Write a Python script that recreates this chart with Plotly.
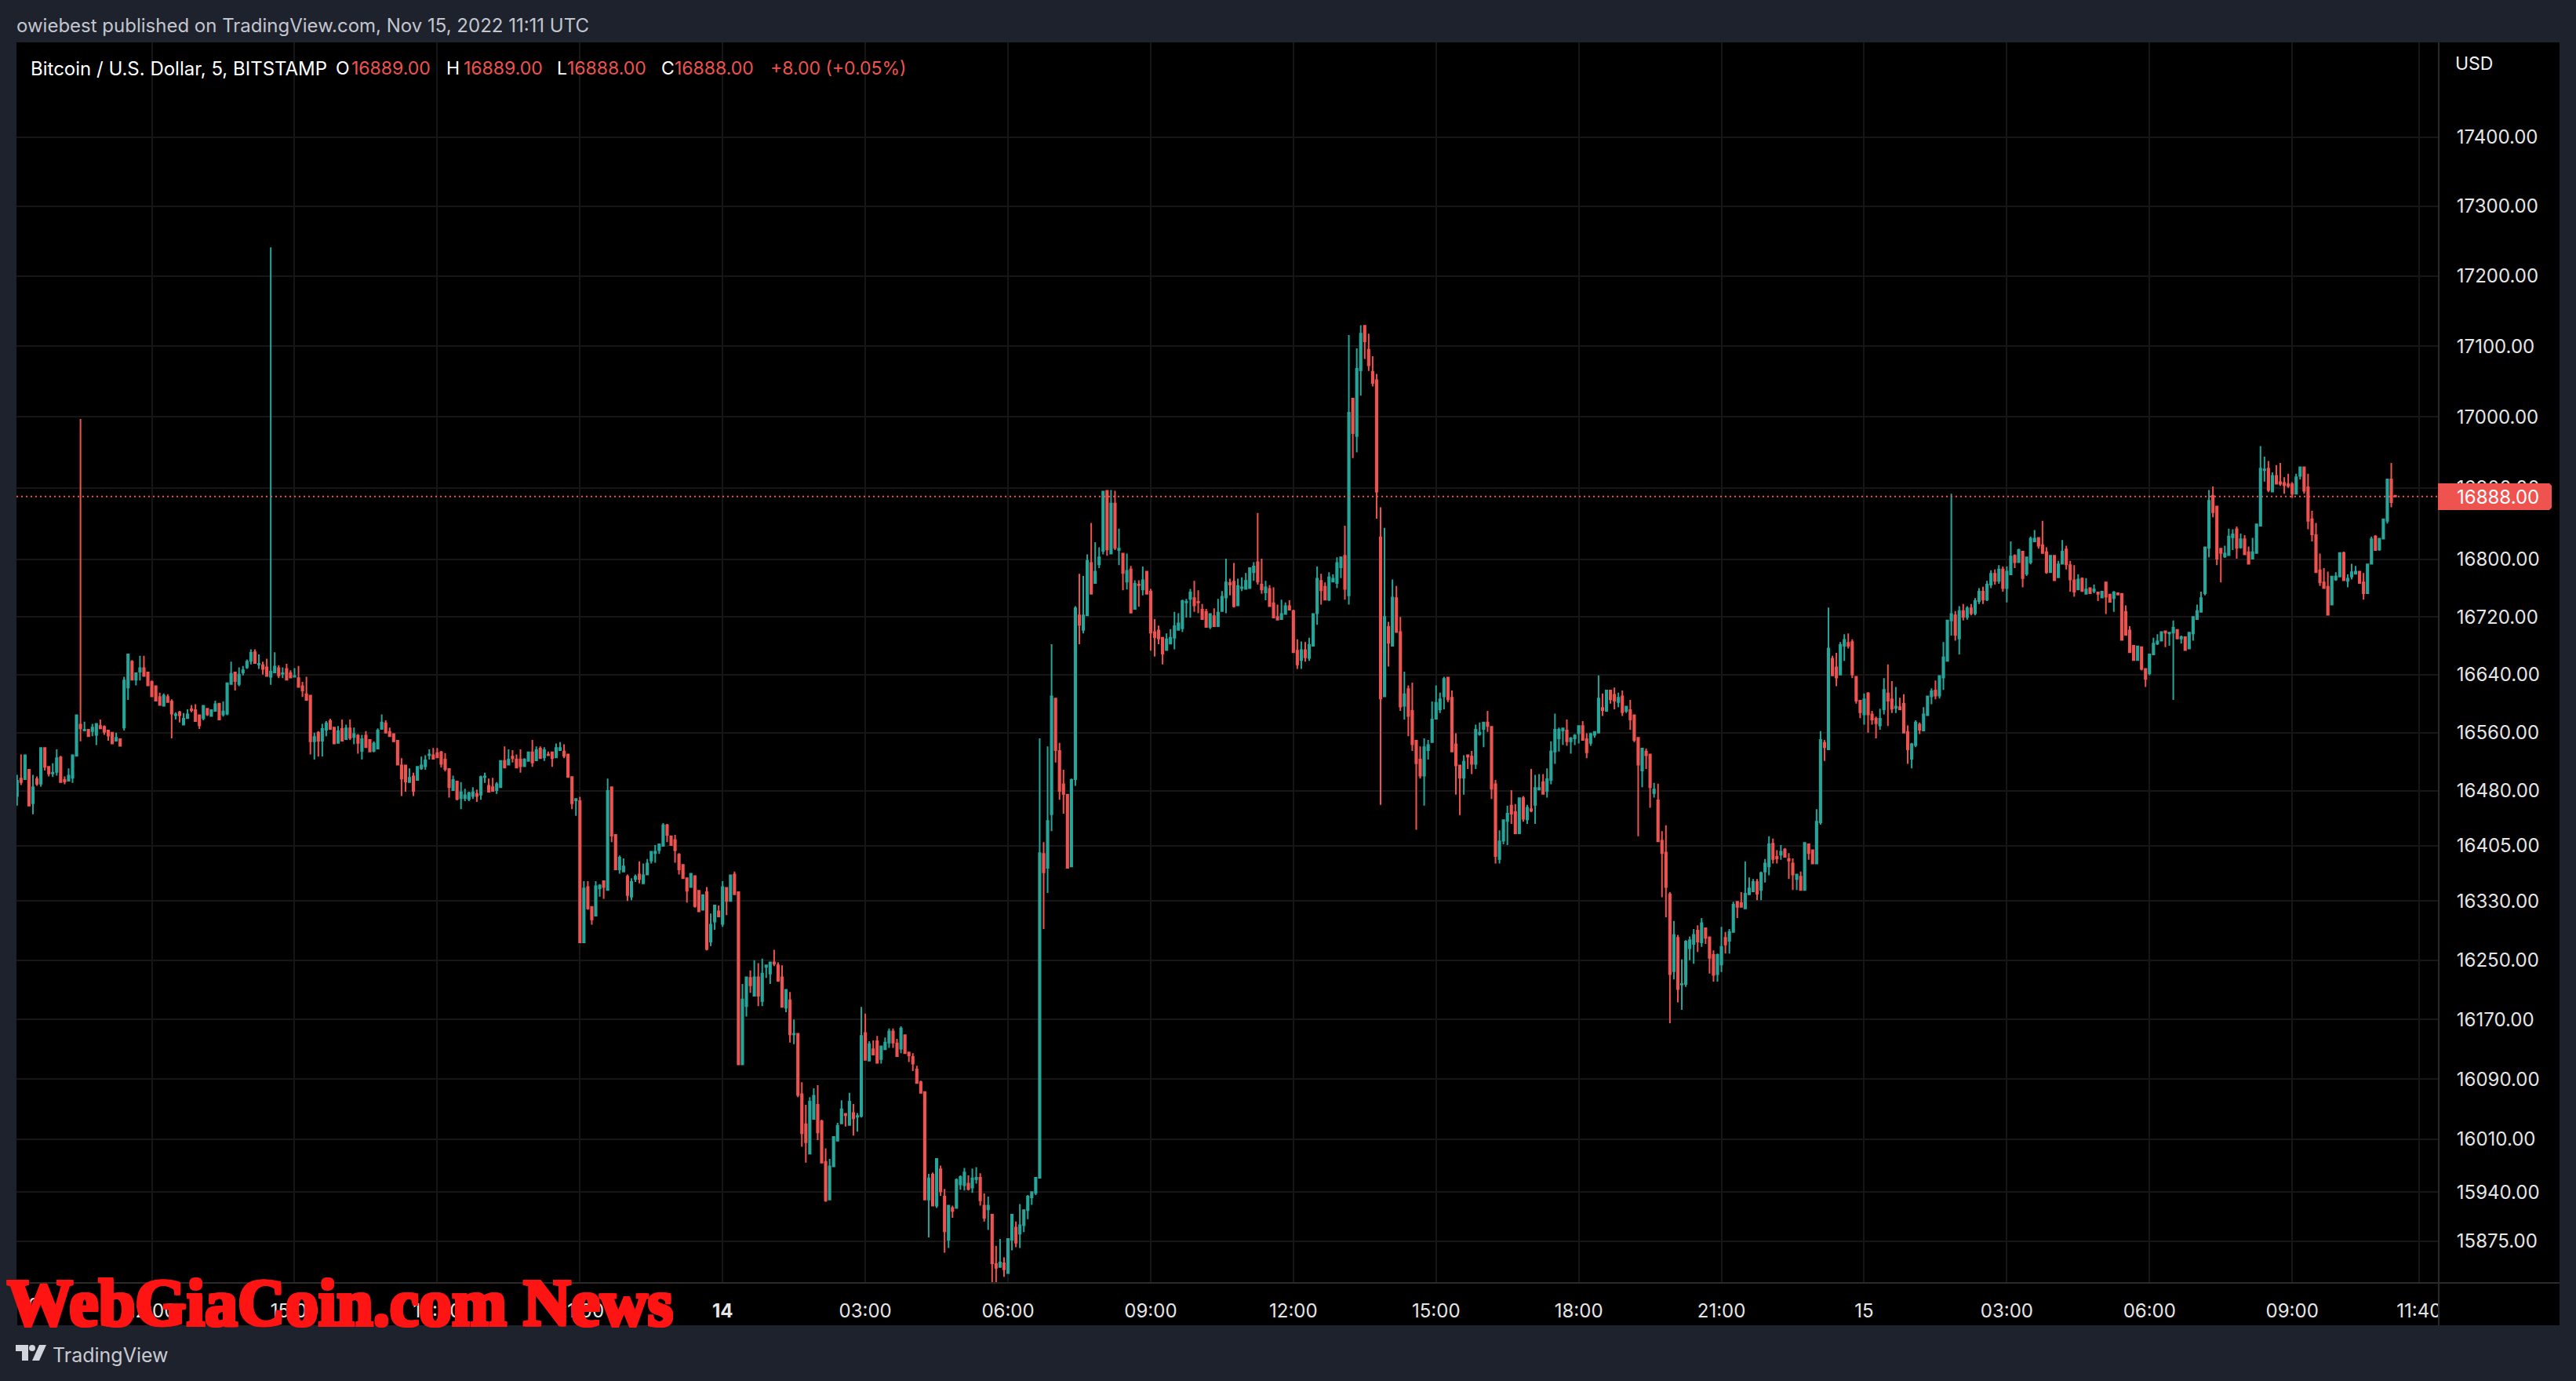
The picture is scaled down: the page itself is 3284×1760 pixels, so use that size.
import pandas as pd
import plotly.graph_objects as go

open_ = [
16473,16497,16496,16509,16463,16496,16490,16539,16513,16504,
16506,16526,16495,16494,16498,16528,16571,16563,16564,16562,
16557,16569,16568,16563,16560,16549,16551,16567,16622,16658,
16633,16644,16649,16643,16630,16624,16609,16597,16609,16603,
16584,16588,16571,16580,16592,16591,16584,16580,16593,16583,
16590,16600,16585,16586,16627,16643,16627,16643,16650,16659,
16671,16654,16653,16650,16637,16643,16649,16641,16648,16642,
16637,16635,16624,16613,16611,16548,16560,16549,16564,16576,
16567,16546,16565,16551,16566,16554,16556,16535,16556,16550,
16535,16538,16565,16573,16561,16558,16549,16515,16515,16492,
16500,16495,16511,16514,16529,16529,16532,16533,16523,16510,
16481,16493,16470,16470,16469,16473,16476,16475,16499,16487,
16485,16481,16485,16521,16516,16527,16523,16523,16514,16521,
16533,16522,16538,16526,16530,16533,16526,16536,16534,16530,
16499,16467,16466,16274,16349,16322,16310,16347,16357,16345,
16485,16420,16373,16370,16363,16336,16360,16366,16354,16366,
16385,16395,16399,16405,16433,16418,16413,16393,16379,16361,
16349,16364,16344,16318,16342,16275,16302,16316,16299,16348,
16330,16366,16342,16110,16188,16226,16202,16227,16195,16241,
16232,16247,16243,16227,16186,16196,16150,16151,16070,16030,
15991,16037,16056,16034,15980,15930,15974,16008,16031,16044,
16029,16045,16040,16041,16152,16115,16130,16141,16117,16130,
16139,16154,16138,16131,16149,16126,16120,16103,16086,16073,
15930,15963,15922,15970,15934,15877,15919,15919,15950,15949,
15951,15946,15957,15959,15922,15917,15910,15845,15841,15846,
15833,15877,15893,15885,15896,15916,15933,15939,15959,16394,
16375,16448,16607,16535,16489,16475,16377,16496,16722,16702,
16722,16795,16767,16793,16812,16896,16808,16878,16813,16808,
16769,16786,16731,16765,16758,16783,16755,16699,16701,16691,
16674,16683,16691,16702,16704,16740,16745,16746,16741,16730,
16727,16706,16721,16707,16728,16747,16767,16769,16736,16760,
16759,16760,16782,16796,16765,16754,16759,16739,16720,16717,
16724,16735,16728,16673,16660,16674,16663,16680,16725,16770,
16762,16744,16769,16767,16789,16805,16750,17026,16973,17066,
17129,17095,17064,17052,16831,16610,16706,16680,16746,16699,
16597,16620,16590,16549,16523,16501,16536,16547,16579,16592,
16610,16636,16608,16544,16515,16498,16529,16527,16517,16558,
16565,16574,16568,16489,16387,16412,16439,16460,16451,16422,
16470,16441,16455,16461,16482,16492,16480,16495,16534,16552,
16563,16563,16548,16552,16559,16569,16551,16546,16557,16560,
16594,16590,16618,16612,16602,16610,16590,16591,16584,16553,
16508,16534,16530,16477,16467,16412,16396,16339,16235,16280,
16217,16218,16266,16272,16290,16274,16293,16281,16257,16231,
16244,16280,16276,16288,16329,16327,16320,16339,16343,16356,
16345,16370,16377,16408,16390,16393,16400,16387,16381,16360,
16363,16345,16407,16399,16381,16437,16546,16537,16662,16650,
16640,16680,16684,16685,16637,16604,16585,16614,16585,16579,
16570,16592,16614,16606,16594,16595,16600,16561,16524,16543,
16571,16563,16584,16610,16618,16611,16636,16659,16715,16722,
16690,16728,16720,16732,16725,16742,16755,16744,16765,16780,
16770,16786,16760,16779,16805,16796,16811,16780,16796,16825,
16830,16820,16810,16782,16805,16775,16794,16814,16792,16771,
16758,16773,16752,16760,16756,16754,16747,16768,16751,16746,
16753,16752,16727,16701,16680,16660,16678,16648,16642,16668,
16683,16687,16700,16697,16698,16702,16690,16692,16676,16697,
16717,16727,16753,16816,16889,16874,16815,16804,16806,16831,
16842,16817,16828,16810,16801,16809,16847,16925,16927,16895,
16917,16908,16907,16905,16905,16892,16917,16929,16901,16856,
16834,16785,16768,16762,16737,16772,16776,16809,16770,16776,
16780,16783,16768,16753,16794,16832,16814,16829,16854,16912,
16889]

high = [
16502,16530,16529,16509,16502,16500,16539,16539,16514,16518,
16537,16528,16500,16511,16529,16585,16997,16575,16564,16572,
16572,16578,16570,16564,16560,16560,16551,16637,16668,16660,
16642,16666,16666,16644,16632,16624,16615,16614,16613,16606,
16588,16590,16587,16592,16598,16599,16584,16598,16593,16591,
16604,16600,16603,16628,16658,16643,16650,16652,16661,16675,
16675,16668,16658,16662,17241,16671,16653,16650,16655,16646,
16649,16652,16630,16637,16611,16560,16562,16572,16576,16579,
16567,16569,16578,16571,16578,16567,16558,16557,16562,16551,
16548,16566,16585,16577,16567,16558,16550,16525,16515,16511,
16505,16513,16527,16529,16537,16539,16539,16535,16532,16511,
16501,16493,16492,16483,16479,16485,16482,16501,16505,16497,
16498,16492,16521,16541,16537,16536,16530,16537,16525,16533,
16550,16541,16541,16540,16534,16533,16545,16547,16544,16530,
16499,16470,16472,16357,16357,16322,16357,16353,16358,16497,
16485,16420,16392,16388,16366,16361,16366,16384,16381,16387,
16397,16406,16408,16436,16435,16418,16420,16395,16379,16361,
16367,16364,16344,16338,16349,16313,16324,16324,16357,16348,
16366,16370,16342,16218,16228,16236,16250,16246,16252,16243,
16247,16264,16247,16243,16210,16207,16170,16151,16086,16056,
16066,16078,16082,16036,15998,15984,16013,16032,16062,16044,
16072,16057,16045,16187,16178,16141,16142,16148,16134,16146,
16158,16158,16144,16161,16149,16126,16125,16108,16088,16074,
15964,15966,15984,15975,15944,15922,15922,15958,15962,15972,
15962,15971,15973,15965,15938,15934,15910,15869,15878,15854,
15878,15910,15901,15924,15916,15936,15940,15959,16552,16410,
16541,16682,16607,16546,16509,16475,16497,16735,16780,16777,
16807,16851,16824,16817,16896,16896,16897,16896,16843,16808,
16808,16791,16771,16771,16790,16783,16759,16717,16708,16691,
16697,16703,16727,16725,16744,16745,16759,16770,16757,16738,
16731,16724,16732,16745,16756,16801,16773,16795,16773,16775,
16781,16788,16796,16865,16801,16770,16764,16761,16737,16744,
16740,16743,16730,16689,16686,16685,16691,16724,16790,16780,
16768,16782,16779,16803,16803,16847,17116,17026,17097,17130,
17130,17118,17086,17061,16873,16844,16713,16772,16763,16720,
16644,16625,16629,16549,16541,16552,16550,16603,16625,16615,
16637,16637,16618,16559,16515,16529,16530,16535,16571,16574,
16574,16590,16568,16495,16426,16440,16460,16481,16462,16470,
16473,16461,16510,16502,16503,16503,16511,16548,16586,16567,
16566,16578,16554,16558,16569,16576,16559,16560,16561,16639,
16614,16618,16618,16622,16615,16618,16596,16605,16584,16553,
16538,16538,16530,16491,16490,16425,16433,16342,16303,16284,
16251,16277,16282,16292,16297,16307,16293,16281,16263,16259,
16295,16288,16292,16329,16329,16342,16384,16362,16360,16360,
16370,16387,16418,16415,16399,16406,16402,16395,16388,16366,
16370,16410,16407,16400,16455,16562,16550,16733,16666,16670,
16685,16696,16697,16689,16637,16604,16614,16616,16590,16582,
16593,16635,16654,16631,16623,16608,16613,16570,16546,16577,
16574,16595,16611,16621,16632,16638,16685,16715,16892,16728,
16735,16738,16735,16738,16746,16760,16762,16770,16785,16786,
16792,16790,16790,16825,16807,16815,16811,16803,16832,16841,
16830,16854,16817,16805,16805,16798,16827,16819,16798,16792,
16779,16775,16774,16760,16765,16754,16756,16768,16751,16756,
16753,16752,16736,16707,16680,16679,16678,16649,16668,16691,
16696,16699,16700,16699,16715,16702,16694,16692,16698,16720,
16737,16755,16817,16897,16902,16874,16815,16819,16843,16842,
16846,16836,16834,16818,16830,16849,16959,16944,16938,16922,
16932,16935,16915,16920,16908,16920,16929,16929,16920,16868,
16851,16808,16788,16783,16776,16782,16809,16811,16779,16794,
16791,16783,16781,16794,16832,16834,16829,16856,16912,16935,
16889]

low = [
16460,16488,16496,16460,16448,16487,16486,16508,16500,16499,
16501,16492,16489,16494,16491,16528,16548,16562,16554,16555,
16543,16566,16557,16549,16544,16548,16542,16563,16605,16633,
16625,16632,16638,16625,16610,16604,16598,16597,16602,16552,
16578,16574,16571,16580,16588,16576,16565,16577,16583,16583,
16590,16577,16582,16584,16627,16618,16624,16639,16648,16654,
16656,16648,16640,16638,16626,16643,16635,16635,16633,16636,
16637,16623,16609,16605,16530,16523,16527,16527,16555,16565,
16545,16546,16549,16551,16550,16544,16531,16523,16540,16533,
16533,16538,16565,16559,16554,16548,16516,16473,16479,16492,
16473,16494,16509,16509,16523,16524,16526,16512,16507,16471,
16481,16467,16455,16466,16466,16469,16465,16468,16491,16479,
16480,16476,16485,16512,16515,16519,16512,16505,16514,16521,
16513,16521,16525,16521,16528,16513,16526,16535,16525,16499,
16455,16446,16273,16274,16318,16298,16310,16336,16333,16345,
16410,16373,16367,16370,16330,16331,16356,16354,16354,16366,
16381,16382,16394,16405,16410,16406,16382,16366,16361,16328,
16349,16321,16316,16318,16263,16269,16291,16309,16295,16311,
16330,16339,16110,16110,16174,16206,16202,16188,16188,16226,
16218,16242,16222,16187,16180,16139,16137,16066,16000,15979,
15991,16037,16009,15979,15927,15930,15974,16008,16030,16027,
16029,16015,16020,16039,16116,16114,16122,16112,16111,16129,
16132,16132,16121,16125,16125,16113,16101,16085,16072,15930,
15880,15922,15919,15935,15860,15866,15906,15919,15943,15942,
15942,15939,15951,15922,15901,15890,15821,15820,15841,15828,
15833,15863,15867,15866,15887,15904,15923,15936,15959,16292,
16341,16425,16519,16468,16449,16375,16377,16487,16682,16697,
16722,16752,16767,16788,16807,16805,16808,16813,16792,16757,
16758,16726,16731,16734,16750,16752,16673,16665,16682,16654,
16674,16683,16675,16702,16699,16719,16719,16727,16725,16717,
16706,16703,16707,16707,16728,16725,16750,16733,16736,16756,
16759,16760,16770,16765,16752,16743,16735,16719,16715,16717,
16724,16730,16671,16648,16648,16658,16659,16680,16709,16737,
16744,16742,16769,16760,16774,16744,16737,16942,16950,17030,
17082,17065,17043,16857,16461,16610,16651,16680,16699,16590,
16578,16555,16535,16427,16497,16460,16523,16547,16579,16587,
16592,16602,16534,16475,16447,16475,16510,16503,16510,16556,
16540,16561,16469,16381,16381,16407,16406,16435,16422,16422,
16438,16435,16451,16435,16481,16476,16471,16489,16517,16534,
16543,16542,16531,16543,16545,16550,16525,16542,16553,16560,
16583,16590,16600,16592,16595,16583,16587,16564,16547,16418,
16485,16510,16457,16471,16411,16335,16308,16165,16224,16193,
16183,16214,16250,16245,16261,16268,16272,16232,16221,16221,
16234,16259,16259,16288,16307,16322,16320,16339,16343,16331,
16331,16355,16365,16381,16381,16386,16390,16360,16345,16345,
16345,16344,16386,16381,16381,16434,16521,16537,16639,16624,
16639,16659,16676,16635,16600,16580,16571,16560,16571,16552,
16564,16585,16569,16587,16587,16592,16560,16517,16511,16540,
16558,16562,16584,16599,16606,16607,16619,16659,16694,16687,
16668,16715,16716,16722,16722,16738,16738,16742,16760,16765,
16766,16755,16740,16779,16788,16796,16761,16777,16793,16825,
16815,16809,16780,16781,16771,16775,16794,16786,16755,16748,
16758,16756,16752,16752,16753,16742,16747,16724,16741,16727,
16750,16688,16695,16671,16660,16660,16646,16623,16639,16668,
16681,16687,16678,16680,16605,16690,16683,16674,16676,16687,
16716,16727,16750,16803,16859,16792,16768,16802,16806,16813,
16801,16815,16807,16794,16801,16809,16847,16909,16894,16895,
16906,16903,16892,16900,16886,16892,16912,16892,16842,16825,
16782,16763,16760,16723,16736,16770,16776,16770,16761,16772,
16780,16767,16744,16753,16794,16812,16812,16829,16850,16873,
16888]

close = [
16494,16492,16529,16460,16485,16490,16539,16513,16504,16505,
16525,16492,16493,16501,16529,16584,16566,16564,16555,16567,
16572,16566,16561,16556,16545,16553,16542,16632,16668,16633,
16642,16649,16638,16625,16610,16604,16598,16611,16602,16586,
16585,16584,16579,16585,16591,16576,16570,16597,16585,16591,
16599,16578,16589,16628,16641,16631,16640,16646,16658,16670,
16656,16655,16648,16638,16644,16651,16639,16642,16633,16636,
16638,16623,16618,16605,16548,16554,16549,16565,16573,16565,
16545,16562,16549,16566,16553,16558,16546,16551,16540,16534,
16545,16563,16574,16560,16555,16548,16516,16497,16493,16498,
16480,16513,16515,16522,16530,16524,16526,16517,16510,16485,
16495,16469,16478,16474,16477,16478,16473,16499,16500,16479,
16480,16489,16521,16512,16523,16525,16512,16514,16523,16533,
16519,16536,16525,16536,16529,16525,16539,16539,16528,16499,
16463,16469,16274,16347,16320,16305,16350,16351,16349,16480,
16419,16373,16389,16377,16338,16356,16363,16360,16365,16381,
16397,16397,16407,16433,16420,16406,16399,16373,16361,16344,
16367,16323,16316,16338,16265,16298,16324,16309,16349,16330,
16365,16339,16110,16197,16227,16216,16227,16202,16232,16243,
16247,16245,16222,16187,16210,16150,16151,16069,16018,16006,
16060,16068,16019,15979,15929,15974,16013,16028,16050,16042,
16060,16038,16041,16148,16116,16137,16123,16112,16134,16139,
16154,16139,16121,16158,16125,16122,16111,16085,16072,15930,
15958,15922,15984,15941,15888,15922,15915,15956,15960,15966,
15944,15958,15959,15929,15906,15922,15846,15840,15847,15838,
15878,15910,15873,15896,15916,15934,15940,15959,16395,16369,
16439,16610,16536,16480,16476,16375,16495,16732,16709,16722,
16798,16752,16783,16803,16895,16814,16878,16816,16815,16781,
16784,16726,16766,16764,16771,16752,16698,16692,16690,16669,
16689,16691,16707,16711,16742,16741,16754,16736,16740,16717,
16706,16724,16707,16726,16748,16768,16765,16735,16763,16761,
16770,16788,16790,16769,16758,16761,16735,16719,16716,16724,
16735,16730,16671,16654,16674,16664,16681,16724,16773,16757,
16744,16775,16773,16795,16803,16759,17006,16977,17068,17118,
17107,17073,17048,16895,16607,16720,16684,16747,16699,16596,
16613,16583,16544,16518,16501,16540,16543,16578,16601,16606,
16634,16606,16534,16515,16498,16520,16527,16517,16564,16560,
16574,16569,16483,16391,16411,16440,16449,16449,16422,16470,
16442,16457,16453,16484,16484,16476,16496,16534,16564,16564,
16566,16548,16552,16556,16569,16550,16533,16558,16561,16607,
16591,16618,16606,16604,16608,16588,16596,16578,16550,16516,
16538,16529,16485,16482,16411,16395,16349,16231,16284,16211,
16218,16275,16277,16284,16275,16300,16280,16253,16230,16257,
16268,16271,16288,16325,16322,16322,16340,16347,16356,16340,
16368,16381,16407,16387,16388,16397,16390,16385,16366,16366,
16345,16409,16395,16381,16438,16550,16540,16676,16639,16636,
16681,16688,16680,16640,16604,16588,16606,16585,16578,16573,
16579,16619,16604,16593,16596,16592,16560,16537,16544,16574,
16564,16585,16610,16617,16611,16638,16664,16715,16724,16695,
16728,16720,16732,16725,16742,16755,16744,16765,16780,16770,
16786,16760,16783,16804,16796,16813,16774,16803,16829,16829,
16819,16809,16782,16805,16771,16793,16811,16793,16772,16755,
16772,16756,16758,16753,16758,16752,16755,16748,16741,16754,
16751,16688,16695,16671,16660,16679,16648,16634,16668,16683,
16686,16699,16698,16698,16705,16690,16692,16674,16698,16720,
16728,16746,16817,16882,16866,16801,16809,16808,16832,16835,
16816,16828,16807,16794,16810,16849,16927,16926,16897,16917,
16906,16906,16904,16903,16892,16915,16929,16896,16854,16835,
16782,16768,16760,16723,16776,16776,16809,16771,16773,16782,
16783,16767,16753,16793,16828,16813,16829,16856,16912,16880,
16888]

price_ticks = [17400,17300,17200,17100,17000,16900,16800,16720,16640,16560,
               16480,16405,16330,16250,16170,16090,16010,15940,15875]
time_ticks = ["2022-11-13 12:00","2022-11-13 15:00","2022-11-13 18:00","2022-11-13 21:00",
              "2022-11-14 00:00","2022-11-14 03:00","2022-11-14 06:00","2022-11-14 09:00",
              "2022-11-14 12:00","2022-11-14 15:00","2022-11-14 18:00","2022-11-14 21:00",
              "2022-11-15 00:00","2022-11-15 03:00","2022-11-15 06:00","2022-11-15 09:00",
              "2022-11-15 11:40"]
time_labels = ["12:00","15:00","18:00","21:00","<b>14</b>","03:00","06:00","09:00",
               "12:00","15:00","18:00","21:00","15","03:00","06:00","09:00","11:40"]
last_price = 16888

assert len(open_) == len(high) == len(low) == len(close) == 601, (len(open_), len(high), len(low), len(close))

W, H = 3284, 1760
L, R, T, B = 21, 3108, 54, 1635
FONT = "Inter"
BG = "#1e222d"
RED = "#ef5350"
GREEN = "#26a69a"
WHITE = "#e6e6e6"
GRID = "#161616"
SEP = "#2a2a2a"
MARK = "#ff1414"

times = pd.date_range("2022-11-13 09:10", periods=len(close), freq="5min")
bar0 = pd.Timestamp("2022-11-14 00:00")
xr = [bar0 + pd.Timedelta(minutes=5 * (L - 921.2) / 5.053),
      bar0 + pd.Timedelta(minutes=5 * (R - 921.2) / 5.053)]
yr = [4.19921, 4.24396]


def px(x):
    return (x - L) / (R - L)


def py(y):
    return 1 - (y - T) / (B - T)


def path(points, close_path=True):
    s = "M" + " L".join(f"{px(a):.6f},{py(b):.6f}" for a, b in points)
    return s + (" Z" if close_path else "")


fig = go.Figure()
fig.add_trace(go.Candlestick(
    x=times, open=open_, high=high, low=low, close=close,
    increasing=dict(line=dict(color=GREEN, width=2), fillcolor=GREEN),
    decreasing=dict(line=dict(color=RED, width=2), fillcolor=RED),
    whiskerwidth=0, hoverinfo="skip", showlegend=False))
fig.add_trace(go.Scatter(
    x=[xr[0], xr[1]], y=[last_price, last_price], mode="lines",
    line=dict(color=RED, width=2, dash="2px,4px"), hoverinfo="skip", showlegend=False))

shapes = [
    dict(type="rect", xref="paper", yref="paper", x0=px(22), x1=px(3263), y0=py(1689), y1=py(54),
         fillcolor="#000000", line_width=0, layer="below"),
    dict(type="rect", xref="paper", yref="paper", x0=px(3109), x1=px(3263), y0=py(1689), y1=py(1636),
         fillcolor="#000000", line_width=0, layer="above"),
    dict(type="line", xref="paper", yref="paper", x0=px(3109), x1=px(3109), y0=py(1689), y1=py(54),
         line=dict(color=SEP, width=2), layer="above"),
    dict(type="line", xref="paper", yref="paper", x0=px(22), x1=px(3263), y0=py(1635), y1=py(1635),
         line=dict(color=SEP, width=2), layer="above"),
    # last price tag
    dict(type="path", xref="paper", yref="paper",
         path=path([(3108, 616), (3250, 616), (3253, 619), (3253, 647), (3250, 650), (3108, 650)]),
         fillcolor=RED, line_width=0, layer="above"),
    # TradingView logo
    dict(type="path", xref="paper", yref="paper",
         path=path([(20, 1714), (36, 1714), (36, 1734), (28, 1734), (28, 1722), (20, 1722)]),
         fillcolor="#d1d4dc", line_width=0, layer="above"),
    dict(type="circle", xref="paper", yref="paper", x0=px(37), x1=px(45), y0=py(1722), y1=py(1714),
         fillcolor="#d1d4dc", line_width=0, layer="above"),
    dict(type="path", xref="paper", yref="paper",
         path=path([(50, 1714), (59, 1714), (50, 1734), (41, 1734)]),
         fillcolor="#d1d4dc", line_width=0, layer="above"),
]


def label(text, x, y, color=WHITE, size=24, family=FONT, xanchor="left", **font_extra):
    return dict(text=text, xref="paper", yref="paper", x=px(x), y=py(y), xanchor=xanchor,
                yanchor="middle", showarrow=False,
                font=dict(color=color, size=size, family=family, **font_extra))


thick = ", ".join(f"{a}px {b}px 0 {MARK}" for a, b in
                  [(2, 0), (-2, 0), (0, 2), (0, -2), (2, 2), (-2, -2), (2, -2), (-2, 2), (1, 0), (-1, 0)])

annotations = [
    label("owiebest published on TradingView.com, Nov 15, 2022 11:11 UTC", 19, 32, "#c3c6cf", 24),
    label("Bitcoin / U.S. Dollar, 5, BITSTAMP", 37, 87, "#ffffff", 24),
    label("O", 426, 87, "#ffffff", 23), label("16889.00", 446, 87, RED, 23),
    label("H", 567, 87, "#ffffff", 23), label("16889.00", 589, 87, RED, 23),
    label("L", 708, 87, "#ffffff", 23), label("16888.00", 721, 87, RED, 23),
    label("C", 841, 87, "#ffffff", 23), label("16888.00", 858, 87, RED, 23),
    label("+8.00 (+0.05%)", 980, 87, RED, 23),
    label("USD", 3128, 81, "#f0f0f0", 23),
    label(f"{last_price:.2f}", 3130, 633, "#ffffff", 24),
    label("10", 38, 1663, WHITE, 24, xanchor="center"),
    label("TradingView", 65, 1727, "#c8cad2", 25),
    label("WebGiaCoin.com News", 7, 1660, MARK, 84, "Liberation Serif", weight=700, shadow=thick),
]

fig.update_layout(
    width=W, height=H, autosize=False,
    margin=dict(l=L, r=W - R, t=T, b=H - B, pad=0),
    paper_bgcolor=BG, plot_bgcolor="#000000",
    showlegend=False, dragmode=False, boxgap=0.4,
    shapes=shapes, annotations=annotations,
    xaxis=dict(type="date", range=xr, rangeslider=dict(visible=False), tickmode="array",
               tickvals=time_ticks, ticktext=time_labels, showgrid=True, gridcolor=GRID, gridwidth=2,
               zeroline=False, showline=False, ticks="outside", ticklen=14, tickcolor="rgba(0,0,0,0)",
               tickfont=dict(color=WHITE, size=24, family=FONT), tickangle=0),
    yaxis=dict(type="log", range=yr, side="right", tickmode="array", tickvals=price_ticks,
               ticktext=[f"{v:.2f}" for v in price_ticks], showgrid=True, gridcolor=GRID, gridwidth=2,
               zeroline=False, showline=False, ticks="outside", ticklen=18, tickcolor="rgba(0,0,0,0)",
               tickfont=dict(color=WHITE, size=24, family=FONT)),
)

fig.write_html("out.html", config=dict(displayModeBar=False),
               post_script="document.body.style.margin='0';document.body.style.background='#1e222d';document.documentElement.style.overflow='hidden';")
